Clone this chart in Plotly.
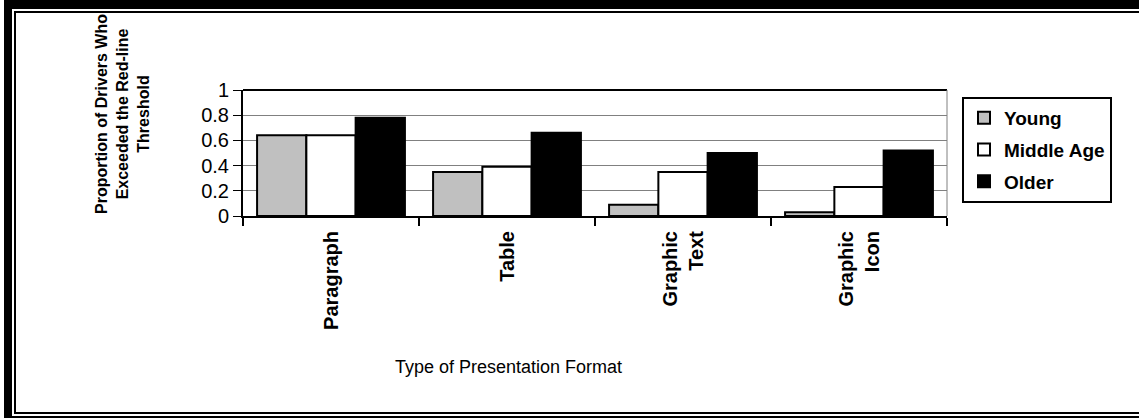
import plotly.graph_objects as go

FORMATS = ["Paragraph", "Table", "Graphic<br>Text", "Graphic<br>Icon"]
YOUNG = [0.64, 0.35, 0.09, 0.03]
MIDDLE_AGE = [0.64, 0.39, 0.35, 0.23]
OLDER = [0.78, 0.66, 0.50, 0.52]
Y_TICKS = [0, 0.2, 0.4, 0.6, 0.8, 1]
Y_TICK_TEXT = ["0", "0.2", "0.4", "0.6", "0.8", "1"]

W, H = 1139, 418
# plot area in pixels
L, R, T, B = 243, 947, 90, 216
FONT = "Arial, Liberation Sans"


def px_x(px):
    return (px - L) / (R - L)


def px_y(py):
    return (B - py) / (B - T)


fig = go.Figure()
for name, vals, color, grp in [("Young", YOUNG, "#C0C0C0", "a"),
                               ("Middle Age", MIDDLE_AGE, "#FFFFFF", "b"),
                               ("Older", OLDER, "#000000", "c")]:
    fig.add_trace(go.Bar(x=FORMATS, y=vals, name=name, legendgroup=grp,
                         marker=dict(color=color, line=dict(color="black", width=2))))

# double frame around the whole picture
frame = [
    (4, 0, W, 9),        # thick top
    (4, 0, 12, H),       # thick left
    (4, 416, W, H),      # thick bottom
    (14, 11, W, 13),     # thin top
    (14, 11, 16, 414),   # thin left
    (14, 412, W, 414),   # thin bottom
]
for x0, y0, x1, y1 in frame:
    fig.add_shape(type="rect", xref="paper", yref="paper",
                  x0=px_x(x0), x1=px_x(x1), y0=px_y(y0), y1=px_y(y1),
                  fillcolor="black", line_width=0, layer="above")

# plot top border and right edge
fig.add_shape(type="line", xref="paper", yref="paper", x0=0, x1=1, y0=1, y1=1,
              line=dict(color="black", width=2))
fig.add_shape(type="line", xref="paper", yref="paper", x0=1, x1=1, y0=0, y1=1,
              line=dict(color="#808080", width=1))

fig.add_annotation(text="<b>Proportion of Drivers Who<br>Exceeded the Red-line<br>Threshold</b>",
                   xref="paper", yref="paper", x=px_x(122), y=px_y(114),
                   xanchor="center", yanchor="middle",
                   textangle=-90, showarrow=False,
                   font=dict(family=FONT, size=16, color="black"))
fig.add_annotation(text="Type of Presentation Format", xref="paper", yref="paper",
                   x=px_x(508), y=px_y(367), xanchor="center", yanchor="middle",
                   showarrow=False,
                   font=dict(family=FONT, size=18, color="black"))

fig.update_layout(
    width=W, height=H,
    margin=dict(l=L, r=W - R, t=T, b=H - B),
    paper_bgcolor="white", plot_bgcolor="white",
    barmode="group", bargap=0.16, bargroupgap=0,
    font=dict(family=FONT, color="black"),
    legend=dict(x=px_x(962), y=px_y(97), xanchor="left", yanchor="top",
                bordercolor="black", borderwidth=2, bgcolor="white",
                traceorder="grouped", tracegroupgap=4,
                font=dict(size=19, family=FONT, weight="bold")),
    showlegend=True,
)
fig.update_xaxes(showline=True, linecolor="black", linewidth=2,
                 ticks="outside", tickson="boundaries", ticklen=8, tickcolor="black", tickwidth=2,
                 tickangle=-90, ticklabelstandoff=5,
                 tickfont=dict(size=20, weight="bold"), showgrid=False)
fig.update_yaxes(range=[0, 1], tickvals=Y_TICKS, ticktext=Y_TICK_TEXT,
                 showline=True, linecolor="black", linewidth=2,
                 ticks="outside", ticklen=8, tickcolor="black", tickwidth=1,
                 tickfont=dict(size=20), showgrid=True, gridcolor="#808080", gridwidth=1,
                 zeroline=False)

fig.write_html("out.html", config={"displayModeBar": False},
               post_script="document.body.style.margin='0px';")
